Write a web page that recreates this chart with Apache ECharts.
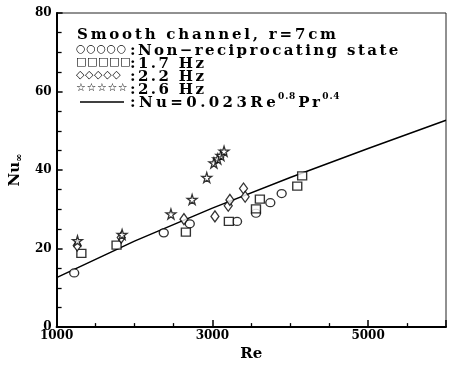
<!DOCTYPE html>
<html>
<head>
<meta charset="utf-8">
<script src="https://cdn.jsdelivr.net/npm/echarts@6/dist/echarts.min.js"></script>
<style>html,body{margin:0;padding:0;background:#fff;}#c{width:449px;height:367px;}</style>
</head>
<body>
<div id="c"></div>
<script>
// Data
var circleRe = [1226, 2376, 2710, 3317, 3560, 3744, 3890];
var circleNu = [13.8, 24.0, 26.3, 26.9, 29.0, 31.7, 34.0];
var squareRe = [1318, 1770, 2660, 3212, 3560, 3610, 4090, 4153];
var squareNu = [18.8, 20.9, 24.2, 26.9, 30.1, 32.6, 35.9, 38.5];
var diamondRe = [1265, 1830, 2635, 3033, 3204, 3225, 3400, 3421];
var diamondNu = [20.8, 22.8, 27.5, 28.2, 30.9, 32.4, 35.3, 33.2];
var starRe = [1268, 1841, 2468, 2740, 2928, 3020, 3070, 3110, 3150];
var starNu = [22.0, 23.6, 28.8, 32.5, 38.1, 41.8, 42.8, 43.7, 44.8];
var lineRe = [1000, 2000, 3000, 4000, 5000, 6000];
var lineNu = [12.6, 21.9, 30.3, 38.1, 45.5, 52.7];
var xTicks = [1000, 3000, 5000];
var yTicks = [0, 20, 40, 60, 80];
var legendTitle = 'Smooth channel, r=7cm';
var legendLabels = [':Non\u2212reciprocating state', ':1.7 Hz', ':2.2 Hz', ':2.6 Hz'];
var legendGlyphs = ['\u25CB\u25CB\u25CB\u25CB\u25CB', '\u25A1\u25A1\u25A1\u25A1\u25A1', '\u25C7\u25C7\u25C7\u25C7\u25C7', '\u2606\u2606\u2606\u2606\u2606'];
var eqMain = ':Nu=0.023Re', eqExp1 = '0.8', eqMid = 'Pr', eqExp2 = '0.4';

function zip(a, b) { return a.map(function (v, i) { return [v, b[i]]; }); }

var serif = '"DejaVu Serif", serif';
var STAR = 'path://M50,0 L61,35 L98,35 L68,57 L79,91 L50,70 L21,91 L32,57 L2,35 L39,35 Z';
var markStyle = { color: '#fff', borderColor: '#000', borderWidth: 1.3 };

// Letter spacing (typewriter look of the reference legend) applied per text string
var spacing = {};
spacing[legendTitle] = 2.8;
legendLabels.forEach(function (t) { spacing[t] = 2.4; });
spacing[eqMain] = 3.4; spacing[eqMid] = 2.5; spacing[eqExp1] = 0.8; spacing[eqExp2] = 0.8;
legendGlyphs.forEach(function (t) { spacing[t] = 0.6; });
var hasLS = 'letterSpacing' in CanvasRenderingContext2D.prototype;
(function patch() {
  if (!hasLS) return;
  var P = CanvasRenderingContext2D.prototype;
  var origFill = P.fillText;
  P.fillText = function (txt, x, y, mw) {
    var want = (spacing[txt] || 0) + 'px';
    if (this.letterSpacing !== want) {
      var f = this.font;
      this.letterSpacing = want;
      this.font = '10px sans-serif';
      this.font = f;
    }
    return mw === undefined ? origFill.call(this, txt, x, y) : origFill.call(this, txt, x, y, mw);
  };
})();
var mctx = document.createElement('canvas').getContext('2d');
function measure(txt, font) {
  mctx.font = font;
  if (hasLS) mctx.letterSpacing = (spacing[txt] || 0) + 'px';
  var w = mctx.measureText(txt).width;
  if (!hasLS) w += (spacing[txt] || 0) * txt.length;
  return w;
}

var chart = echarts.init(document.getElementById('c'), null, { renderer: 'canvas' });

var bigFont = 'bold 15px ' + serif, supFont = 'bold 9px ' + serif;
var rowsY = [50, 63, 76, 89];
var graphics = [{
  type: 'text', left: 77, top: 28,
  style: { text: legendTitle, font: bigFont, fill: '#000', lineHeight: 13 }
}];
legendLabels.forEach(function (t, i) {
  graphics.push({ type: 'text', left: 76, top: rowsY[i] - 6.5,
    style: { text: legendGlyphs[i], font: 'bold 11px "DejaVu Sans"', fill: '#000', lineHeight: 12 } });
  graphics.push({ type: 'text', left: 130, top: rowsY[i] - 6.5,
    style: { text: t, font: bigFont, fill: '#000', lineHeight: 13 } });
});
graphics.push({ type: 'line', shape: { x1: 80, y1: 102, x2: 124, y2: 102 }, style: { stroke: '#000', lineWidth: 1.3 } });
var ex = 130, eqTop = 95.5;
graphics.push({ type: 'text', left: ex, top: eqTop, style: { text: eqMain, font: bigFont, fill: '#000', lineHeight: 13 } });
ex += measure(eqMain, bigFont) - 1;
graphics.push({ type: 'text', left: ex, top: eqTop - 3, style: { text: eqExp1, font: supFont, fill: '#000', lineHeight: 9 } });
ex += measure(eqExp1, supFont) + 2;
graphics.push({ type: 'text', left: ex, top: eqTop, style: { text: eqMid, font: bigFont, fill: '#000', lineHeight: 13 } });
ex += measure(eqMid, bigFont);
graphics.push({ type: 'text', left: ex, top: eqTop - 3, style: { text: eqExp2, font: supFont, fill: '#000', lineHeight: 9 } });

chart.setOption({
  animation: false,
  backgroundColor: '#fff',
  grid: { left: 52, right: 1, top: 13, bottom: 35, show: true, borderColor: '#222', borderWidth: 1 },
  xAxis: {
    type: 'value', min: 1000, max: 6000, interval: 2000,
    name: 'Re', nameLocation: 'middle', nameGap: 15,
    nameTextStyle: { fontFamily: 'DejaVu Serif', fontWeight: 'bold', fontSize: 15, color: '#000', verticalAlign: 'top' },
    axisLine: { lineStyle: { color: '#000', width: 2 } },
    axisTick: { inside: true, length: 7, lineStyle: { color: '#000', width: 1.5 } },
    minorTick: { show: true, splitNumber: 4, length: 4, lineStyle: { color: '#000', width: 1.3 } },
    splitLine: { show: false },
    axisLabel: { margin: 3, fontFamily: 'DejaVu Serif', fontWeight: 'bold', fontSize: 12, color: '#000',
      formatter: function (v) { return xTicks.indexOf(v) >= 0 ? String(v) : ''; } }
  },
  yAxis: {
    type: 'value', min: 0, max: 80, interval: 20,
    name: '{n|Nu}{s|\u221E}', nameLocation: 'middle', nameGap: 32,
    nameTextStyle: { rich: {
      n: { fontFamily: 'DejaVu Serif', fontWeight: 'bold', fontSize: 15, color: '#000', verticalAlign: 'top', lineHeight: 16 },
      s: { fontFamily: 'DejaVu Serif', fontWeight: 'bold', fontSize: 10, color: '#000', verticalAlign: 'bottom', lineHeight: 16 }
    } },
    axisLine: { lineStyle: { color: '#000', width: 2 } },
    axisTick: { inside: true, length: 6, lineStyle: { color: '#000', width: 1.5 } },
    minorTick: { show: true, splitNumber: 4, length: 5, lineStyle: { color: '#000', width: 1.3 } },
    splitLine: { show: false },
    axisLabel: { margin: 5, fontFamily: 'DejaVu Serif', fontWeight: 'bold', fontSize: 12, color: '#000',
      formatter: function (v) { return yTicks.indexOf(v) >= 0 ? String(v) : ''; } }
  },
  series: [
    { type: 'line', data: zip(lineRe, lineNu), symbol: 'none', smooth: false,
      lineStyle: { color: '#000', width: 1.5 }, z: 1 },
    { type: 'scatter', data: zip(circleRe, circleNu), symbol: 'circle', symbolSize: [9, 8], itemStyle: markStyle, z: 3 },
    { type: 'scatter', data: zip(squareRe, squareNu), symbol: 'rect', symbolSize: [9, 8], itemStyle: markStyle, z: 3 },
    { type: 'scatter', data: zip(diamondRe, diamondNu), symbol: 'diamond', symbolSize: [8, 11], itemStyle: markStyle, z: 3 },
    { type: 'scatter', data: zip(starRe, starNu), symbol: STAR, symbolSize: [10, 10], itemStyle: markStyle, z: 3 }
  ],
  graphic: graphics
});
</script>
</body>
</html>
